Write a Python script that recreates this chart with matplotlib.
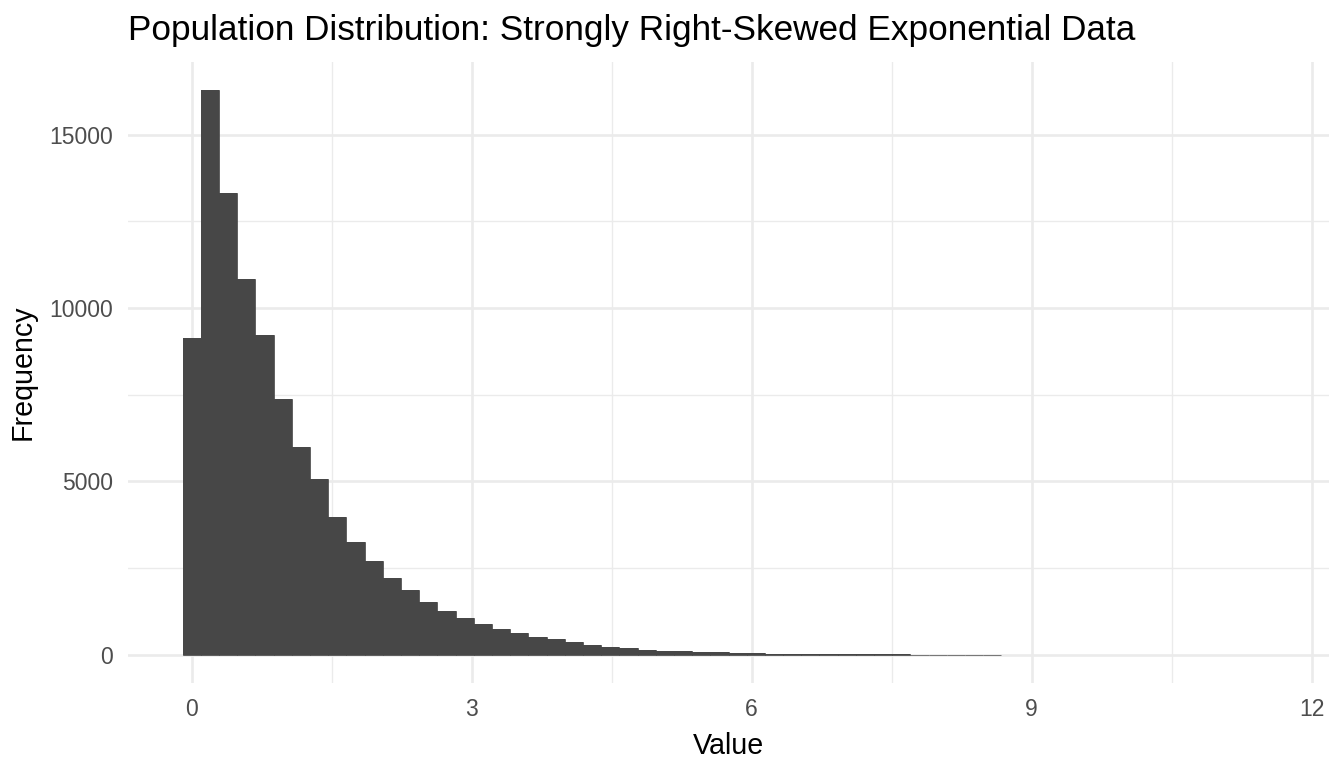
import numpy as np
import matplotlib
matplotlib.use('Agg')
import matplotlib.pyplot as plt

# histogram of the population, 60 bins of width ~0.195, first bin centred on 0
bin_width = 0.195
counts = [9140, 16280, 13330, 10840, 9230, 7370, 5980, 5060, 3965, 3245,
          2690, 2225, 1880, 1536, 1250, 1050, 878, 735, 620, 506,
          448, 363, 275, 228, 182, 150, 120, 98, 80, 66,
          53, 43, 35, 29, 23, 19, 15, 12, 10, 8,
          7, 5, 4, 4, 3, 2, 2, 1, 2, 1,
          1, 1, 0, 0, 1, 0, 0, 0, 0, 1]
x_ticks = [0, 3, 6, 9, 12]
y_ticks = [0, 5000, 10000, 15000]

plt.rcParams['font.family'] = ['Liberation Sans', 'DejaVu Sans']

fig = plt.figure(figsize=(13.44, 7.68), dpi=100)
ax = fig.add_axes([128 / 1344, 1 - 683 / 768, (1329 - 128) / 1344, (683 - 62) / 768])

counts = np.array(counts)
left_edges = np.arange(len(counts)) * bin_width - bin_width / 2
ax.bar(left_edges, counts, width=bin_width, align='edge', color='#474747',
       linewidth=0, zorder=3)
# the long tail is only a hairline in the original, give it a thin outline
tail = counts >= 3
ax.bar(left_edges[tail], counts[tail], width=bin_width, align='edge', color='#474747',
       edgecolor='#474747', linewidth=0.5, zorder=3)

lo, hi = left_edges[0], left_edges[-1] + bin_width
pad_x = 0.05 * (hi - lo)
ax.set_xlim(lo - pad_x, hi + pad_x)
ymax = counts.max()
ax.set_ylim(-0.05 * ymax, 1.05 * ymax)

ax.set_xticks(x_ticks)
ax.set_yticks(y_ticks)
ax.set_xticks([1.5, 4.5, 7.5, 10.5], minor=True)
ax.set_yticks([2500, 7500, 12500], minor=True)
ax.grid(True, which='major', color='#EBEBEB', linewidth=1.9, zorder=0)
ax.grid(True, which='minor', color='#EBEBEB', linewidth=1.0, zorder=0)
ax.set_axisbelow(True)
for s in ax.spines.values():
    s.set_visible(False)
ax.tick_params(which='both', length=0)
ax.tick_params(which='major', labelsize=16.5, labelcolor='#4D4D4D', pad=10.8)

ax.set_xlabel('Value', fontsize=20.6, labelpad=8)
ax.set_ylabel('Frequency', fontsize=20.6, labelpad=9)

fig.text(128 / 1344, 1 - 40 / 768, 'Population Distribution: Strongly Right-Skewed Exponential Data',
         fontsize=25.3, ha='left', va='baseline')

fig.savefig('out.png', dpi=100)
